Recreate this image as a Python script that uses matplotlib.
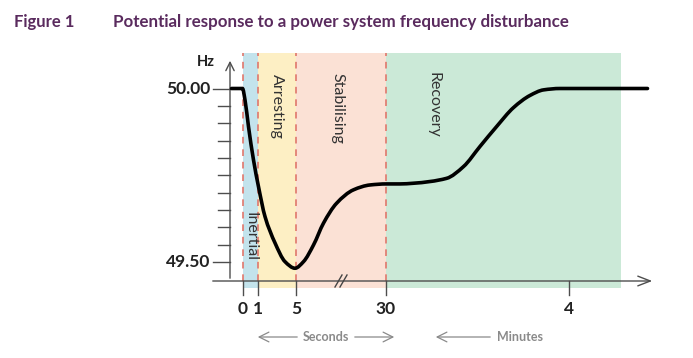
import matplotlib
matplotlib.use("Agg")
import matplotlib.pyplot as plt
from matplotlib.path import Path
from matplotlib.patches import PathPatch

# ---- data ----
# x positions on the (non-linear) time axis, in axis position units
tick_labels = ["0", "1", "5", "30", "4"]
tick_pos = [0, 15.5, 53.5, 143.5, 326]

phase_names = ["Inertial", "Arresting", "Stabilising", "Recovery"]
phase_start = [0, 15.5, 53.5, 143.5]
phase_end = [15.5, 53.5, 143.5, 378]
phase_colors = ["#c3e3ec", "#fdefc4", "#fbe1d5", "#cbe9d7"]

curve_x = [-11, 0, 2.5, 6, 11, 16, 22.5, 32.5, 42.5, 52.5, 61, 71, 81, 94, 111,
           127.5, 144, 157.5, 171, 204, 221, 237.5, 254, 271, 287.5, 301, 317.5, 405]
curve_hz = [50.000, 50.000, 49.967, 49.890, 49.794, 49.717, 49.631, 49.555, 49.501,
            49.482, 49.501, 49.549, 49.612, 49.669, 49.708, 49.722, 49.725, 49.725,
            49.727, 49.741, 49.775, 49.833, 49.890, 49.945, 49.980, 49.996, 50.000, 50.000]

y_ticks = [50.00, 49.95, 49.90, 49.85, 49.80, 49.75, 49.70, 49.65, 49.60, 49.55, 49.50]
y_labels = {50.00: "50.00", 49.50: "49.50"}

W, H = 693, 358
fig = plt.figure(figsize=(W / 100, H / 100), dpi=100)
fig.patch.set_facecolor("white")

# axes region in pixels
L, R, B, T = 230, 655, 281, 53
ax = fig.add_axes([L / W, 1 - B / H, (R - L) / W, (B - T) / H])
x0 = 242.5  # pixel of position 0
ax.set_xlim(L - x0, R - x0)
hz_per_px = 0.5 / 173.5
ax.set_ylim(50 - (B - 88.5) * hz_per_px, 50 + (88.5 - T) * hz_per_px)
ax.axis("off")

ybot = ax.get_ylim()[0]
ytop = ax.get_ylim()[1]
ext = 7 * hz_per_px  # shading goes slightly below the axis line
axc = "#4d4d4d"

for s, e, c in zip(phase_start, phase_end, phase_colors):
    ax.fill_between([s, e], ybot - ext, ytop, color=c, lw=0, zorder=0, clip_on=False)

for p in phase_start:
    ax.plot([p, p], [ybot, ytop], color="#e0776c", lw=1.2, ls=(0, (4, 3.5)), zorder=1)

# y axis
ax.annotate("", xy=(L - x0, 50 + (88.5 - 58) * hz_per_px), xytext=(L - x0, ybot),
            arrowprops=dict(arrowstyle="->,head_length=0.6,head_width=0.3", color=axc, lw=1.0),
            annotation_clip=False, zorder=3)
for yt in y_ticks:
    tl = 17 if yt in y_labels else 12
    ax.plot([L - x0 - tl, L - x0], [yt, yt], color=axc, lw=1.0, clip_on=False, zorder=3)
    if yt in y_labels:
        ax.text(L - x0 - 20, yt, y_labels[yt], ha="right", va="center", fontsize=12.5,
                fontweight="bold", family="Lato", color="#222222", clip_on=False)
ax.text(L - x0 - 15, 50 + (88.5 - 62) * hz_per_px, "Hz", ha="right", va="center",
        fontsize=10.5, fontweight="bold", family="Lato", color="#222222")

# x axis
ax.annotate("", xy=(R - x0, ybot), xytext=(210 - x0, ybot),
            arrowprops=dict(arrowstyle="->,head_length=0.9,head_width=0.35", color=axc, lw=1.0),
            annotation_clip=False, zorder=3)
for p, lab in zip(tick_pos, tick_labels):
    ax.plot([p, p], [ybot, ybot - 14 * hz_per_px], color=axc, lw=1.0, clip_on=False, zorder=3)
    ax.text(p, ybot - 28 * hz_per_px, lab, ha="center", va="center", fontsize=12.5,
            fontweight="bold", family="Lato", color="#222222", clip_on=False)

# axis break marks
for dx in (-3.5, 1.5):
    ax.plot([96 + dx, 103 + dx], [ybot - 6 * hz_per_px, ybot + 6 * hz_per_px],
            color="#444444", lw=1.0, clip_on=False, zorder=3)

# curve: monotone (Fritsch-Carlson) cubic Bezier path through the read points
n = len(curve_x)
hs = [curve_x[i + 1] - curve_x[i] for i in range(n - 1)]
ds = [(curve_hz[i + 1] - curve_hz[i]) / hs[i] for i in range(n - 1)]
ms = [ds[0]]
for k in range(1, n - 1):
    if ds[k - 1] * ds[k] <= 0:
        ms.append(0.0)
    else:
        w1 = 2 * hs[k] + hs[k - 1]
        w2 = hs[k] + 2 * hs[k - 1]
        ms.append((w1 + w2) / (w1 / ds[k - 1] + w2 / ds[k]))
ms.append(ds[-1])
verts = [(curve_x[0], curve_hz[0])]
codes = [Path.MOVETO]
for i in range(n - 1):
    h = hs[i]
    verts += [(curve_x[i] + h / 3, curve_hz[i] + ms[i] * h / 3),
              (curve_x[i + 1] - h / 3, curve_hz[i + 1] - ms[i + 1] * h / 3),
              (curve_x[i + 1], curve_hz[i + 1])]
    codes += [Path.CURVE4] * 3
ax.add_patch(PathPatch(Path(verts, codes), facecolor="none", edgecolor="black", lw=2.6,
                       capstyle="round", joinstyle="round", zorder=4, clip_on=False))

# phase labels
label_pos = [(250 - x0, 236), (277 - x0, 106), (337 - x0, 108), (433 - x0, 105)]
for name, (lx, ly) in zip(phase_names, label_pos):
    ax.text(lx, 50 - (ly - 88.5) * hz_per_px, name, rotation=-90, ha="center", va="center",
            fontsize=11.5, family="Lato", color="#333333", zorder=2)

# time-unit annotations
yb = 50 - (337 - 88.5) * hz_per_px
gray = "#8a8a8a"
for xa, xb in [(300, 255), (352, 397), (493, 433)]:
    ax.annotate("", xy=(xb - x0, yb), xytext=(xa - x0, yb),
                arrowprops=dict(arrowstyle="->,head_length=0.7,head_width=0.35", color=gray, lw=0.9),
                annotation_clip=False)
ax.text(326 - x0, yb, "Seconds", ha="center", va="center", fontsize=9, fontweight="bold",
        family="Lato", color=gray, clip_on=False)
ax.text(497 - x0, yb, "Minutes", ha="left", va="center", fontsize=9, fontweight="bold",
        family="Lato", color=gray, clip_on=False)

# title
purple = "#5a2b5e"
fig.text(14 / W, 1 - 22 / H, "Figure 1", ha="left", va="center", fontsize=12,
         fontweight="bold", family="Lato", color=purple)
fig.text(113 / W, 1 - 22 / H, "Potential response to a power system frequency disturbance",
         ha="left", va="center", fontsize=12.2, fontweight="bold", family="Lato", color=purple)

fig.savefig("out.png", dpi=100)
